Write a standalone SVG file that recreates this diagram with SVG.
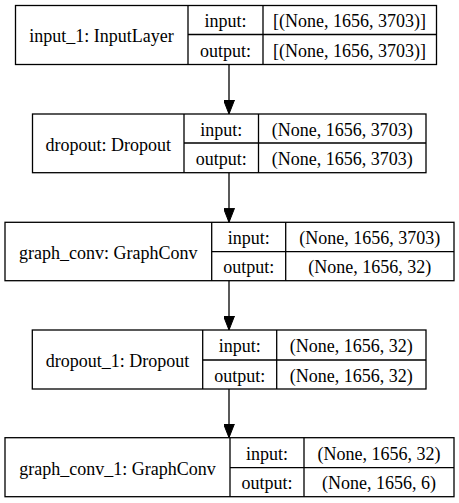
<svg xmlns="http://www.w3.org/2000/svg" width="459" height="503" viewBox="0 0 459 503">
<style>
.box{fill:#fff;stroke:#000;stroke-width:1.3}
.div{stroke:#000;stroke-width:1.3;fill:none}
text{font-family:"Liberation Serif","Times New Roman",serif;font-size:18px;fill:#000;text-anchor:middle}
.edge{stroke:#000;stroke-width:1.3;fill:none;marker-end:url(#arrow)}
</style>
<defs>
<marker id="arrow" viewBox="0 0 14 11" refX="14" refY="5.5" markerWidth="14" markerHeight="11" markerUnits="userSpaceOnUse" orient="auto">
<path d="M0,0 L14,5.5 L0,11 z" fill="#000" stroke="#000" stroke-width="1"/>
</marker>
</defs>
<rect width="459" height="503" fill="#fff"/>
<g id="connectors">
<line class="edge" x1="229" y1="64.5" x2="229" y2="114"/>
<line class="edge" x1="229" y1="172.7" x2="229" y2="222.3"/>
<line class="edge" x1="229" y1="280.7" x2="229" y2="330"/>
<line class="edge" x1="229" y1="389" x2="229" y2="437.7"/>
</g>
<g id="input_1">
<rect class="box" x="15.5" y="5.5" width="421" height="59"/>
<path class="div" d="M188,5.5 V64.5 M263,5.5 V64.5 M188,34.5 H436.5"/>
<text x="101.5" y="42">input_1: InputLayer</text>
<text x="225.5" y="27">input:</text>
<text x="225.5" y="56.5">output:</text>
<text x="349.5" y="27">[(None, 1656, 3703)]</text>
<text x="349.5" y="56.5">[(None, 1656, 3703)]</text>
</g>
<g id="dropout">
<rect class="box" x="32.5" y="114" width="393.5" height="58.7"/>
<path class="div" d="M184,114 V172.7 M258.5,114 V172.7 M184,143 H426"/>
<text x="108.2" y="150.5">dropout: Dropout</text>
<text x="221.2" y="135.5">input:</text>
<text x="221.2" y="165">output:</text>
<text x="342.2" y="135.5">(None, 1656, 3703)</text>
<text x="342.2" y="165">(None, 1656, 3703)</text>
</g>
<g id="graph_conv">
<rect class="box" x="5" y="222.3" width="449" height="58.4"/>
<path class="div" d="M211.7,222.3 V280.7 M285.7,222.3 V280.7 M211.7,251.7 H454"/>
<text x="108.3" y="258.7">graph_conv: GraphConv</text>
<text x="248.7" y="244">input:</text>
<text x="248.7" y="273">output:</text>
<text x="369.8" y="244">(None, 1656, 3703)</text>
<text x="369.8" y="273">(None, 1656, 32)</text>
</g>
<g id="dropout_1">
<rect class="box" x="32.3" y="330" width="393.7" height="59"/>
<path class="div" d="M202.7,330 V389 M276.7,330 V389 M202.7,360 H426"/>
<text x="117.5" y="366.5">dropout_1: Dropout</text>
<text x="239.7" y="352">input:</text>
<text x="239.7" y="381.5">output:</text>
<text x="351.3" y="352">(None, 1656, 32)</text>
<text x="351.3" y="381.5">(None, 1656, 32)</text>
</g>
<g id="graph_conv_1">
<rect class="box" x="5" y="437.7" width="449" height="59"/>
<path class="div" d="M230,437.7 V496.7 M304,437.7 V496.7 M230,467.7 H454"/>
<text x="117.5" y="474.5">graph_conv_1: GraphConv</text>
<text x="267" y="459.5">input:</text>
<text x="267" y="489">output:</text>
<text x="379" y="459.5">(None, 1656, 32)</text>
<text x="379" y="489">(None, 1656, 6)</text>
</g>
</svg>
